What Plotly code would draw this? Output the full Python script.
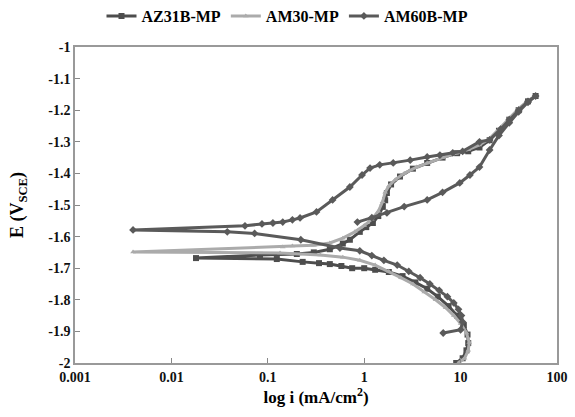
import plotly.graph_objects as go

# ---- data (current in mA/cm2, potential in V_SCE) ----
az31_i = [9.0, 10.5, 11.5, 12.0, 11.8, 10.8, 9.2, 7.5, 5.8, 4.5, 3.4, 2.5, 1.8, 1.3, 1.0,
          0.75, 0.58, 0.44, 0.34, 0.23, 0.124, 0.018,
          0.083, 0.2, 0.3, 0.44, 0.6, 0.71, 0.9, 1.05, 1.23, 1.4, 1.56, 1.65, 1.72, 1.9,
          2.35, 3.2, 4.5, 6.5, 9.2, 12.0, 15.7, 20.0, 25.0, 32.0, 40.0, 50.0, 60.0]
az31_e = [-2.0, -1.985, -1.96, -1.937, -1.91, -1.88, -1.85, -1.82, -1.79, -1.765, -1.745, -1.725, -1.712, -1.705, -1.70,
          -1.70, -1.693, -1.687, -1.684, -1.68, -1.671, -1.668,
          -1.658, -1.655, -1.65, -1.64, -1.622, -1.61, -1.585, -1.57, -1.557, -1.535, -1.506, -1.485, -1.462, -1.435,
          -1.41, -1.385, -1.367, -1.35, -1.336, -1.33, -1.318, -1.295, -1.265, -1.23, -1.20, -1.172, -1.155]

am30_i = [9.5, 11.0, 12.0, 12.3, 11.5, 10.0, 8.5, 7.0, 5.5, 4.2, 3.2, 2.4, 1.8, 1.3, 0.9,
          0.6, 0.35, 0.134, 0.004,
          0.143, 0.18, 0.3, 0.44, 0.6, 0.8, 1.0, 1.2, 1.4, 1.55, 1.65, 1.8, 2.1, 2.6, 3.5,
          4.5, 6.5, 9.0, 12.0, 15.7, 20.0, 25.0, 32.0, 40.0, 50.0, 60.0]
am30_e = [-2.0, -1.985, -1.96, -1.935, -1.905, -1.875, -1.85, -1.825, -1.80, -1.775, -1.75, -1.73, -1.71, -1.69, -1.675,
          -1.665, -1.658, -1.652, -1.649,
          -1.633, -1.63, -1.627, -1.62, -1.605, -1.585, -1.565, -1.545, -1.52, -1.49, -1.46, -1.44, -1.42, -1.40, -1.38,
          -1.367, -1.35, -1.336, -1.325, -1.31, -1.29, -1.26, -1.225, -1.195, -1.17, -1.155]

am60_i = [6.6, 10.0, 10.5, 10.2, 9.5, 8.5, 7.3, 6.0, 4.8, 3.8, 2.9, 2.2, 1.6, 1.2, 0.9,
          0.56, 0.22, 0.073, 0.038, 0.004,
          0.058, 0.087, 0.113, 0.143, 0.18, 0.216, 0.32, 0.47, 0.71, 0.95, 1.15, 1.45, 2.0, 3.0,
          4.5, 6.1, 8.3, 10.5, 15.7, 20.0, 26.0, 32.0, 40.0, 50.0, 60.0,
          50.0, 40.0, 32.0, 25.0, 20.0, 15.7, 12.5, 9.8, 6.5, 4.5, 2.6, 1.72, 1.2, 0.85]
am60_e = [-1.905, -1.895, -1.87, -1.85, -1.83, -1.81, -1.79, -1.77, -1.75, -1.73, -1.71, -1.69, -1.675, -1.66, -1.645,
          -1.636, -1.61, -1.59, -1.585, -1.579,
          -1.566, -1.56, -1.557, -1.554, -1.547, -1.541, -1.522, -1.484, -1.443, -1.405, -1.383, -1.373, -1.367, -1.358,
          -1.348, -1.342, -1.335, -1.33, -1.30, -1.294, -1.26, -1.23, -1.20, -1.172, -1.155,
          -1.175, -1.205, -1.24, -1.28, -1.326, -1.38, -1.405, -1.43, -1.46, -1.484, -1.505, -1.525, -1.54, -1.554]

x_tickvals = [0.001, 0.01, 0.1, 1, 10, 100]
x_ticktext = ["0.001", "0.01", "0.1", "1", "10", "100"]
y_tickvals = [-1, -1.1, -1.2, -1.3, -1.4, -1.5, -1.6, -1.7, -1.8, -1.9, -2]
y_ticktext = ["-1", "-1.1", "-1.2", "-1.3", "-1.4", "-1.5", "-1.6", "-1.7", "-1.8", "-1.9", "-2"]

FONT = "Liberation Serif"

fig = go.Figure()
fig.add_trace(go.Scatter(x=az31_i, y=az31_e, name="<b>AZ31B-MP</b>", mode="lines+markers",
                         line=dict(color="#4d4d4d", width=3),
                         marker=dict(symbol="square", size=6, color="#4d4d4d")))
fig.add_trace(go.Scatter(x=am30_i, y=am30_e, name="<b>AM30-MP</b>", mode="lines+markers",
                         line=dict(color="#ababab", width=3),
                         marker=dict(symbol="triangle-up", size=5, color="#ababab")))
fig.add_trace(go.Scatter(x=am60_i, y=am60_e, name="<b>AM60B-MP</b>", mode="lines+markers",
                         line=dict(color="#5a5a5a", width=3),
                         marker=dict(symbol="diamond", size=6, color="#5a5a5a")))

fig.update_layout(
    width=575, height=417,
    margin=dict(l=75, r=18, t=47, b=54, autoexpand=False),
    paper_bgcolor="white", plot_bgcolor="white",
    font=dict(family=FONT, size=13, color="black"),
    showlegend=True,
    legend=dict(orientation="h", x=0.5, xref="container", xanchor="center",
                y=1 - 16 / 417, yref="container", yanchor="middle",
                font=dict(family=FONT, size=16, color="black"), itemwidth=30,
                bgcolor="rgba(0,0,0,0)"),
    xaxis=dict(type="log", range=[-3, 2], tickvals=x_tickvals,
               ticktext=["<b>%s</b>" % t for t in x_ticktext],
               ticks="inside", ticklen=5, tickcolor="#888", showgrid=False, zeroline=False,
               showline=True, linecolor="#999", linewidth=1.5, mirror=True,
               tickfont=dict(family=FONT, size=14, color="#111"),
               title=dict(text="<b>log i (mA/cm<sup>2</sup>)</b>", standoff=2,
                          font=dict(family=FONT, size=17, color="black"))),
    yaxis=dict(range=[-2, -1], tickvals=y_tickvals,
               ticktext=["<b>%s</b>" % t for t in y_ticktext],
               ticks="inside", ticklen=5, tickcolor="#888", showgrid=False, zeroline=False,
               showline=True, linecolor="#999", linewidth=1.5, mirror=True,
               tickfont=dict(family=FONT, size=14, color="#111"),
               title=dict(text="<b>E (V<sub>SCE</sub>)</b>", standoff=20,
                          font=dict(family=FONT, size=18, color="black"))),
)

fig.write_html("out.html")
